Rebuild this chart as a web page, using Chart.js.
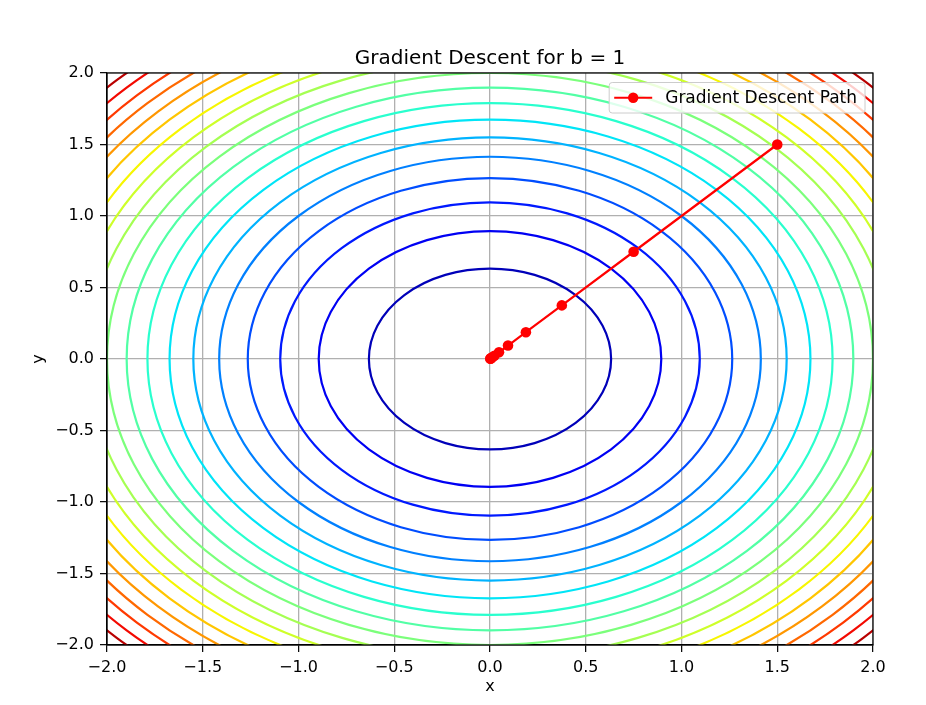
<!DOCTYPE html>
<html>
<head>
<meta charset="utf-8">
<title>Gradient Descent for b = 1</title>
<script src="https://cdn.jsdelivr.net/npm/chart.js@4.4.1/dist/chart.umd.min.js"></script>
<style>
    html, body { margin: 0; padding: 0; background: #fff; }
</style>
</head>
<body>
<canvas id="grafico" width="926" height="705"></canvas>
<script>
// Dados do gráfico
const tituloGrafico = 'Gradient Descent for b = 1'
const rotuloCaminho = 'Gradient Descent Path'
const b = 1
// níveis das curvas de nível de f(x, y) = x² + b·y²
const niveis = [0.4, 0.8, 1.2, 1.6, 2.0, 2.4, 2.8, 3.2, 3.6, 4.0,
                4.4, 4.8, 5.2, 5.6, 6.0, 6.4, 6.8, 7.2, 7.6]
const nivelMin = 0
const nivelMax = 8
// pontos do caminho do gradiente
const caminhoX = [1.5, 0.75, 0.375, 0.1875, 0.094, 0.047, 0.023, 0.012, 0.006, 0.003, 0.0015]
const caminhoY = [1.5, 0.75, 0.375, 0.1875, 0.094, 0.047, 0.023, 0.012, 0.006, 0.003, 0.0015]
const ticksX = [-2.0, -1.5, -1.0, -0.5, 0.0, 0.5, 1.0, 1.5, 2.0]
const ticksY = [-2.0, -1.5, -1.0, -0.5, 0.0, 0.5, 1.0, 1.5, 2.0]

const FONTE = 'DejaVu Sans'

// colormap "jet" do matplotlib
function jet(t) {
    const seg = pts => {
        for (let i = 1; i < pts.length; i++) {
            if (t <= pts[i][0]) {
                const [x0, y0] = pts[i - 1], [x1, y1] = pts[i]
                return y0 + (y1 - y0) * (t - x0) / (x1 - x0)
            }
        }
        return pts[pts.length - 1][1]
    }
    const r = seg([[0, 0], [0.35, 0], [0.66, 1], [0.89, 1], [1, 0.5]])
    const g = seg([[0, 0], [0.125, 0], [0.375, 1], [0.64, 1], [0.91, 0], [1, 0]])
    const bl = seg([[0, 0.5], [0.11, 1], [0.34, 1], [0.65, 0], [1, 0]])
    return `rgb(${Math.round(r * 255)}, ${Math.round(g * 255)}, ${Math.round(bl * 255)})`
}

const formatar = v => (v < 0 ? '\u2212' : '') + Math.abs(v).toFixed(1)

// Curvas de nível, desenhadas antes do caminho
const pluginContorno = {
    id: 'contorno',
    beforeDatasetsDraw(chart) {
        const { ctx, chartArea: ca, scales: { x, y } } = chart
        ctx.save()
        ctx.beginPath()
        ctx.rect(ca.left, ca.top, ca.right - ca.left, ca.bottom - ca.top)
        ctx.clip()
        const cx = x.getPixelForValue(0)
        const cy = y.getPixelForValue(0)
        niveis.forEach(nivel => {
            const rx = Math.abs(x.getPixelForValue(Math.sqrt(nivel)) - cx)
            const ry = Math.abs(y.getPixelForValue(Math.sqrt(nivel / b)) - cy)
            ctx.beginPath()
            ctx.ellipse(cx, cy, rx, ry, 0, 0, Math.PI * 2)
            ctx.strokeStyle = jet((nivel - nivelMin) / (nivelMax - nivelMin))
            ctx.lineWidth = 2.2
            ctx.stroke()
        })
        ctx.restore()
    }
}

// Moldura, título e legenda no estilo matplotlib
const pluginMoldura = {
    id: 'moldura',
    afterDraw(chart) {
        const { ctx, chartArea: ca } = chart
        ctx.save()
        ctx.strokeStyle = '#000'
        ctx.lineWidth = 1.2
        ctx.strokeRect(ca.left, ca.top, ca.right - ca.left, ca.bottom - ca.top)

        // título
        ctx.fillStyle = '#000'
        ctx.font = `20px "${FONTE}"`
        ctx.textAlign = 'center'
        ctx.textBaseline = 'alphabetic'
        ctx.fillText(tituloGrafico, (ca.left + ca.right) / 2, 63.5)

        // legenda
        ctx.font = `17px "${FONTE}"`
        const w = ctx.measureText(rotuloCaminho).width
        const dir = ca.right - 8
        const topo = ca.top + 9.5
        const alt = 30.5
        const esq = dir - w - 64
        ctx.beginPath()
        ctx.roundRect(esq, topo, dir - esq, alt, 3)
        ctx.fillStyle = 'rgba(255, 255, 255, 0.8)'
        ctx.fill()
        ctx.strokeStyle = '#cccccc'
        ctx.lineWidth = 1
        ctx.stroke()
        const ym = topo + alt / 2
        ctx.beginPath()
        ctx.moveTo(esq + 5, ym)
        ctx.lineTo(esq + 43, ym)
        ctx.strokeStyle = '#ff0000'
        ctx.lineWidth = 2.2
        ctx.stroke()
        ctx.beginPath()
        ctx.arc(esq + 24, ym, 5.2, 0, Math.PI * 2)
        ctx.fillStyle = '#ff0000'
        ctx.fill()
        ctx.fillStyle = '#000'
        ctx.textAlign = 'left'
        ctx.textBaseline = 'middle'
        ctx.fillText(rotuloCaminho, esq + 56, ym + 1)
        ctx.restore()
    }
}

function eixo(ticks, tituloEixo, posicao) {
    return {
        type: 'linear',
        min: -2,
        max: 2,
        afterBuildTicks: scale => { scale.ticks = ticks.map(v => ({ value: v })) },
        afterFit: scale => {
            if (posicao === 'x') scale.height = 60
            else scale.width = 107
        },
        ticks: {
            callback: v => formatar(v),
            font: { family: FONTE, size: 16 },
            color: '#000',
            padding: 6,
            autoSkip: false,
            maxRotation: 0
        },
        grid: {
            color: '#b0b0b0',
            lineWidth: 1.3,
            tickLength: 7,
            tickColor: '#000',
            tickWidth: 1.2
        },
        border: { display: true, color: '#000', width: 1.2 },
        title: {
            display: true,
            text: tituloEixo,
            font: { family: FONTE, size: 16 },
            color: '#000',
            padding: posicao === 'x' ? { top: 0, bottom: 9 } : { top: 29, bottom: 0 }
        }
    }
}

const ctx = document.getElementById('grafico').getContext('2d')
const grafico = new Chart(ctx, {
    type: 'scatter',
    data: {
        datasets: [{
            label: rotuloCaminho,
            data: caminhoX.map((x, i) => ({ x: x, y: caminhoY[i] })),
            showLine: true,
            borderColor: '#ff0000',
            backgroundColor: '#ff0000',
            borderWidth: 2.2,
            pointRadius: 5.3,
            pointHoverRadius: 5.3,
            pointBorderWidth: 0
        }]
    },
    options: {
        responsive: false,
        animation: false,
        layout: { padding: { top: 73, right: 53, bottom: 0, left: 0 } },
        plugins: {
            legend: { display: false },
            title: { display: false },
            tooltip: { enabled: false }
        },
        scales: {
            x: eixo(ticksX, 'x', 'x'),
            y: eixo(ticksY, 'y', 'y')
        }
    },
    plugins: [pluginContorno, pluginMoldura]
})
</script>
</body>
</html>
